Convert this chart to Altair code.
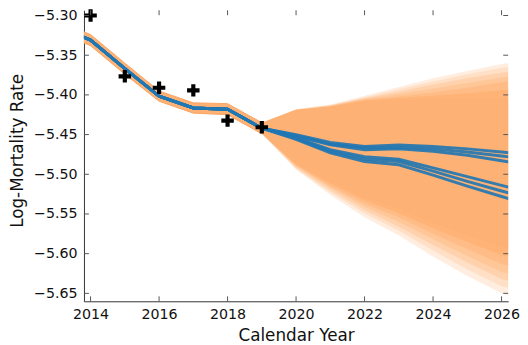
import altair as alt
import pandas as pd

# ---------------- data ----------------
obs_years = [2014, 2015, 2016, 2017, 2018, 2019]
obs_vals = [-5.300, -5.3766, -5.391, -5.3943, -5.4324, -5.4407]

fit_years = [2013, 2014, 2015, 2016, 2017, 2018, 2019]
fit_vals = [-5.313, -5.331, -5.367, -5.4015, -5.4165, -5.418, -5.442]

fc_years = [2020, 2021, 2022, 2023, 2024, 2025, 2026, 2027]
fc_lines = {
    "A1": [-5.450, -5.460, -5.465, -5.463, -5.465, -5.468, -5.472, -5.476],
    "A2": [-5.451, -5.462, -5.467, -5.466, -5.468, -5.472, -5.477, -5.482],
    "A3": [-5.452, -5.463, -5.469, -5.468, -5.471, -5.476, -5.483, -5.490],
    "B1": [-5.454, -5.469, -5.478, -5.481, -5.492, -5.503, -5.514, -5.525],
    "B2": [-5.455, -5.471, -5.481, -5.484, -5.496, -5.509, -5.521, -5.533],
    "B3": [-5.456, -5.473, -5.484, -5.488, -5.501, -5.515, -5.528, -5.541],
}

# fitted-period uncertainty band
band_years = [2013, 2014, 2015, 2016, 2017, 2018, 2019]
band_hi = [-5.306, -5.324, -5.360, -5.395, -5.410, -5.411, -5.435]
band_lo = [-5.320, -5.338, -5.374, -5.408, -5.423, -5.425, -5.449]

# forecast core (densest) band
core_years = [2019, 2020, 2021, 2022, 2023, 2024, 2025, 2026, 2027]
core_hi = [-5.435, -5.419, -5.415, -5.408, -5.406, -5.405, -5.405, -5.405, -5.405]
core_lo = [-5.449, -5.486, -5.510, -5.5295, -5.544, -5.561, -5.577, -5.592, -5.600]

# lighter outer forecast bands
fan_years = [2019, 2020, 2021, 2022, 2023, 2024, 2025, 2026, 2027]
fan_hi = [
    [-5.4352, -5.418, -5.412, -5.401, -5.390, -5.379, -5.370, -5.361, -5.356],
    [-5.4352, -5.418, -5.413, -5.403, -5.393, -5.383, -5.374, -5.366, -5.361],
    [-5.4352, -5.418, -5.413, -5.404, -5.396, -5.387, -5.379, -5.372, -5.367],
    [-5.4352, -5.419, -5.414, -5.405, -5.399, -5.392, -5.385, -5.378, -5.374],
    [-5.4352, -5.419, -5.414, -5.406, -5.402, -5.397, -5.391, -5.384, -5.380],
    [-5.4352, -5.419, -5.415, -5.407, -5.404, -5.401, -5.398, -5.394, -5.392],
]
fan_lo = [
    [-5.4488, -5.494, -5.526, -5.554, -5.577, -5.6036, -5.628, -5.650, -5.662],
    [-5.4488, -5.493, -5.523, -5.549, -5.571, -5.596, -5.620, -5.641, -5.652],
    [-5.4488, -5.492, -5.520, -5.545, -5.566, -5.589, -5.611, -5.632, -5.643],
    [-5.4488, -5.490, -5.517, -5.541, -5.560, -5.582, -5.603, -5.623, -5.634],
    [-5.4488, -5.489, -5.515, -5.537, -5.554, -5.575, -5.594, -5.613, -5.623],
    [-5.4488, -5.488, -5.512, -5.533, -5.549, -5.568, -5.585, -5.602, -5.612],
]

x_ticks = [2014, 2016, 2018, 2020, 2022, 2024, 2026]
y_ticks = [-5.30, -5.35, -5.40, -5.45, -5.50, -5.55, -5.60, -5.65]

# ---------------- tables ----------------
obs_df = pd.DataFrame({"year": obs_years, "val": obs_vals})
band_df = pd.DataFrame({"year": band_years, "lo": band_lo, "hi": band_hi})
core_df = pd.DataFrame({"year": core_years, "lo": core_lo, "hi": core_hi})
fan_rows = []
for i, (hi, lo) in enumerate(zip(fan_hi, fan_lo)):
    for y, h, l in zip(fan_years, hi, lo):
        fan_rows.append({"band": i, "year": y, "lo": l, "hi": h})
fan_df = pd.DataFrame(fan_rows)
line_rows = []
for name, vals in fc_lines.items():
    for y, v in zip(fit_years, fit_vals):
        line_rows.append({"series": name, "year": y, "val": v})
    for y, v in zip(fc_years, vals):
        line_rows.append({"series": name, "year": y, "val": v})
line_df = pd.DataFrame(line_rows)
xt_df = pd.DataFrame({"year": x_ticks})
yt_df = pd.DataFrame({"val": y_ticks})

# ---------------- styling ----------------
W, H = 430, 295
FONT = "DejaVu Sans"
xscale = alt.Scale(domain=[2013.807, 2026.193], nice=False, zero=False)
yscale = alt.Scale(domain=[-5.66, -5.2934], nice=False, zero=False)
xaxis = alt.Axis(title="Calendar Year", values=x_ticks, format="d", ticks=False, tickSize=0,
                 labelPadding=6, labelFontSize=14.4, titleFontSize=17, labelFont=FONT,
                 titleFont=FONT, titleFontWeight="normal", labelColor="#111", titleColor="#111",
                 domainColor="#333", domainWidth=1, grid=False, labelFlush=False,
                 labelOverlap=False, titleBaseline="alphabetic", titleY=39.5)
yaxis = alt.Axis(title="Log-Mortality Rate", values=y_ticks, format=".2f", ticks=False, tickSize=0,
                 labelPadding=7, labelFontSize=14.4, titleFontSize=17, labelFont=FONT,
                 titleFont=FONT, titleFontWeight="normal", labelColor="#111", titleColor="#111",
                 domainColor="#333", domainWidth=1, grid=False, labelOverlap=False,
                 titleBaseline="alphabetic", titleX=-62, titleY=142)

X = alt.X("year:Q", scale=xscale, axis=xaxis)
CORE = "#fdb174"

fan = alt.Chart(fan_df).mark_area(color="#ff7f0e", opacity=0.13, clip=True).encode(
    x=X, y=alt.Y("lo:Q", scale=yscale, axis=yaxis), y2="hi:Q", detail="band:N")

core = alt.Chart(core_df).mark_area(color=CORE, clip=True).encode(
    x=X, y=alt.Y("lo:Q", scale=yscale, axis=yaxis), y2="hi:Q")

band = alt.Chart(band_df).mark_area(color=CORE, stroke="#fba564", strokeWidth=1, clip=True).encode(
    x=X, y=alt.Y("lo:Q", scale=yscale, axis=yaxis), y2="hi:Q")

lines = alt.Chart(line_df).mark_line(color="#1f77b4", strokeWidth=3, opacity=0.9, clip=True).encode(
    x=X, y=alt.Y("val:Q", scale=yscale, axis=yaxis), detail="series:N")

plus_path = "M-1,-0.333H-0.333V-1H0.333V-0.333H1V0.333H0.333V1H-0.333V0.333H-1Z"
pts = alt.Chart(obs_df).mark_point(shape=plus_path, filled=True, color="black", opacity=1,
                                   size=160, strokeWidth=0).encode(
    x=X, y=alt.Y("val:Q", scale=yscale, axis=yaxis))

TC = "#555"
tick_b = alt.Chart(xt_df).mark_rule(color=TC, strokeWidth=1).encode(
    x=X, y=alt.value(H), y2=alt.value(H - 5))
tick_t = alt.Chart(xt_df).mark_rule(color=TC, strokeWidth=1).encode(
    x=X, y=alt.value(0), y2=alt.value(5))
tick_l = alt.Chart(yt_df).mark_rule(color=TC, strokeWidth=1).encode(
    y=alt.Y("val:Q", scale=yscale, axis=yaxis), x=alt.value(0), x2=alt.value(5))
tick_r = alt.Chart(yt_df).mark_rule(color=TC, strokeWidth=1).encode(
    y=alt.Y("val:Q", scale=yscale, axis=yaxis), x=alt.value(W - 5), x2=alt.value(W))

chart = alt.layer(fan, core, band, lines, pts, tick_b, tick_t, tick_l, tick_r).properties(
    width=W, height=H,
    padding={"left": 77, "top": 0, "right": 12, "bottom": 42},
    autosize=alt.AutoSizeParams(type="none"),
    background="white",
).configure_view(stroke=None)

chart.save("out.html", embed_options={"renderer": "svg", "actions": False})
